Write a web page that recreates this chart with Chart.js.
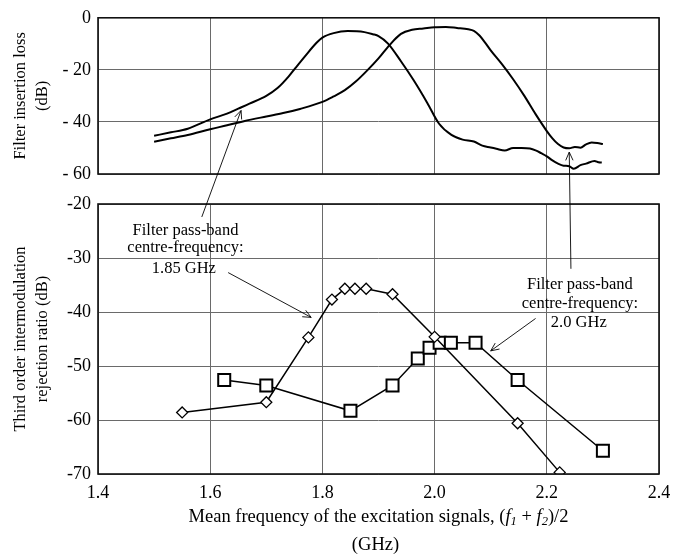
<!DOCTYPE html>
<html><head><meta charset="utf-8">
<script src="https://cdn.jsdelivr.net/npm/chart.js@4"></script>
<style>
html,body{margin:0;padding:0;background:#fff;}
#wrap{position:relative;width:682px;height:559px;background:#fff;}
canvas{position:absolute;left:0;top:0;}
</style></head><body>
<div id="wrap"><canvas id="cTop" width="682" height="559"></canvas><canvas id="cBot" width="682" height="559"></canvas></div>
<script>
// ---- data ----
const xTicks = [1.4, 1.6, 1.8, 2.0, 2.2, 2.4];
const topYTicks = [0, -20, -40, -60];
const bottomYTicks = [-20, -30, -40, -50, -60, -70];

// Filter insertion loss, 1.85 GHz filter
const lossFreqA = [1.50,1.53,1.56,1.60,1.63,1.65,1.67,1.70,1.72,1.74,1.75,1.77,1.79,1.80,1.82,1.845,1.875,1.89,1.90,1.917,1.94,1.963,1.987,2.008,2.03,2.05,2.07,2.085,2.10,2.11,2.125,2.14,2.155,2.17,2.18,2.19,2.20,2.21,2.22,2.23,2.24,2.248,2.26,2.27,2.285,2.292,2.298];
const lossA     = [-45.3,-44.0,-42.6,-39.0,-36.8,-34.9,-33.0,-30.0,-27.0,-22.5,-19.8,-14.5,-9.5,-7.6,-5.9,-5.1,-5.5,-6.3,-7.0,-9.9,-16.7,-24.1,-32.7,-40.7,-45.0,-46.8,-47.5,-49.1,-49.8,-50.3,-51.0,-50.0,-50.0,-50.2,-50.9,-52.0,-53.2,-54.8,-56.0,-56.8,-57.0,-58.0,-56.6,-56.0,-55.0,-55.5,-55.6];
// Filter insertion loss, 2.0 GHz filter
const lossFreqB = [1.50,1.53,1.56,1.60,1.63,1.66,1.70,1.73,1.76,1.80,1.82,1.84,1.86,1.88,1.90,1.92,1.94,1.96,1.98,2.00,2.02,2.04,2.06,2.07,2.08,2.09,2.10,2.12,2.14,2.16,2.18,2.20,2.21,2.22,2.23,2.24,2.25,2.26,2.27,2.28,2.29,2.30];
const lossB     = [-47.6,-46.3,-45.0,-42.8,-41.3,-39.7,-37.9,-36.6,-35.0,-32.3,-30.2,-27.8,-24.4,-20.2,-15.6,-10.4,-6.2,-4.6,-4.1,-3.6,-3.5,-3.9,-4.4,-5.0,-6.8,-9.5,-12.5,-17.8,-23.6,-30.0,-37.0,-43.5,-46.3,-48.5,-49.8,-50.1,-49.6,-49.9,-48.6,-47.9,-48.1,-48.5];

// Third order IM rejection ratio
const imFreq185 = [1.55, 1.70, 1.775, 1.817, 1.84, 1.858, 1.878, 1.925, 2.0, 2.148, 2.223];
const im185     = [-58.6, -56.7, -44.7, -37.7, -35.7, -35.7, -35.7, -36.7, -44.6, -60.6, -69.7];
const imFreq200 = [1.625, 1.70, 1.85, 1.925, 1.97, 1.991, 2.009, 2.029, 2.073, 2.148, 2.30];
const im200     = [-52.6, -53.6, -58.3, -53.6, -48.6, -46.6, -45.7, -45.7, -45.7, -52.6, -65.7];

// ---- helpers ----
const SERIF = '"Liberation Serif", "Times New Roman", serif';
const toXY = (xs, ys) => xs.map((x, i) => ({x, y: ys[i]}));

function arrowHead(ctx, x1, y1, x2, y2, len) {
  const a = Math.atan2(y2 - y1, x2 - x1);
  const s = 0.42;
  ctx.beginPath();
  ctx.moveTo(x2 - len * Math.cos(a - s), y2 - len * Math.sin(a - s));
  ctx.lineTo(x2, y2);
  ctx.lineTo(x2 - len * Math.cos(a + s), y2 - len * Math.sin(a + s));
  ctx.stroke();
}
function arrow(ctx, x1, y1, x2, y2) {
  ctx.beginPath(); ctx.moveTo(x1, y1); ctx.lineTo(x2, y2); ctx.stroke();
  arrowHead(ctx, x1, y1, x2, y2, 9);
}

const framePlugin = {
  id: 'frame',
  afterDatasetsDraw(chart) {
    const {ctx, chartArea: a} = chart;
    ctx.save();
    ctx.strokeStyle = '#111'; ctx.lineWidth = 1.6;
    ctx.strokeRect(a.left, a.top, a.right - a.left, a.bottom - a.top);
    ctx.restore();
  }
};

let topChart;

const annotPlugin = {
  id: 'annot',
  afterDraw(chart) {
    const {ctx, chartArea: a} = chart;
    const xs = chart.scales.x, ys = chart.scales.y;
    const tx = topChart.scales.x, ty = topChart.scales.y;
    ctx.save();
    ctx.strokeStyle = '#000'; ctx.fillStyle = '#000'; ctx.lineWidth = 0.9;
    // text blocks
    ctx.font = '16.5px ' + SERIF;
    ctx.textAlign = 'center'; ctx.textBaseline = 'middle';
    const t1 = [['Filter pass-band', 1.556, -25.0], ['centre-frequency:', 1.556, -28.1], ['1.85 GHz', 1.553, -32.0]];
    const t2 = [['Filter pass-band', 2.259, -34.9], ['centre-frequency:', 2.259, -38.5], ['2.0 GHz', 2.257, -41.9]];
    [...t1, ...t2].forEach(([s, x, y]) => ctx.fillText(s, xs.getPixelForValue(x), ys.getPixelForValue(y)));
    // arrows in lower panel
    arrow(ctx, xs.getPixelForValue(1.632), ys.getPixelForValue(-32.7), xs.getPixelForValue(1.780), ys.getPixelForValue(-41.0));
    arrow(ctx, xs.getPixelForValue(2.180), ys.getPixelForValue(-41.2), xs.getPixelForValue(2.100), ys.getPixelForValue(-47.2));
    // leader lines up into the top panel
    arrow(ctx, xs.getPixelForValue(1.585), ys.getPixelForValue(-22.4), tx.getPixelForValue(1.655), ty.getPixelForValue(-35.6));
    arrow(ctx, xs.getPixelForValue(2.243), ys.getPixelForValue(-32.0), tx.getPixelForValue(2.240), ty.getPixelForValue(-51.6));
    // x axis title with italic/subscript parts
    const base = '18.5px ' + SERIF, ital = 'italic 18.5px ' + SERIF, sub = 'italic 12.5px ' + SERIF;
    const parts = [[base, 'Mean frequency of the excitation signals, (', 0], [ital, 'f', 0], [sub, '1', 5], [base, ' + ', 0], [ital, 'f', 0], [sub, '2', 5], [base, ')/2', 0]];
    let total = 0;
    parts.forEach(p => { ctx.font = p[0]; p.push(ctx.measureText(p[1]).width); total += p[3]; });
    let x = (a.left + a.right) / 2 - total / 2;
    const ty0 = 517;
    ctx.textAlign = 'left';
    parts.forEach(p => { ctx.font = p[0]; ctx.fillText(p[1], x, ty0 + p[2]); x += p[3]; });
    ctx.font = base; ctx.textAlign = 'center';
    ctx.fillText('(GHz)', (a.left + a.right) / 2 - 3, 545);
    ctx.restore();
  }
};

const gridColor = '#6a6a6a';

topChart = new Chart(document.getElementById('cTop'), {
  type: 'line',
  data: {
    datasets: [
      {data: toXY(lossFreqA, lossA), borderColor: '#000', borderWidth: 2, pointRadius: 0, cubicInterpolationMode: 'monotone', fill: false},
      {data: toXY(lossFreqB, lossB), borderColor: '#000', borderWidth: 2, pointRadius: 0, cubicInterpolationMode: 'monotone', fill: false}
    ]
  },
  options: {
    responsive: false, devicePixelRatio: 1, animation: false,
    layout: {padding: {left: 0, top: 11, right: 23, bottom: 385}},
    plugins: {legend: {display: false}, tooltip: {enabled: false}},
    scales: {
      x: {type: 'linear', min: 1.4, max: 2.4,
          afterBuildTicks: s => { s.ticks = xTicks.map(v => ({value: v})); },
          ticks: {display: false}, grid: {color: gridColor, lineWidth: 1, drawTicks: false}, border: {display: false},
          afterFit: s => { s.height = 0; }},
      y: {type: 'linear', min: -60, max: 0,
          afterBuildTicks: s => { s.ticks = topYTicks.map(v => ({value: v})); },
          ticks: {color: '#000', padding: 7, font: {family: SERIF, size: 18},
                  callback: v => v === 0 ? '0' : '- ' + Math.abs(v)},
          grid: {color: gridColor, lineWidth: 1, drawTicks: false}, border: {display: false},
          title: {display: true, text: ['Filter insertion loss', '(dB)'], color: '#000',
                  font: {family: SERIF, size: 16.5, lineHeight: 1.3}, padding: {top: 10, bottom: 0}},
          afterFit: s => { s.width = 98; }}
    }
  },
  plugins: [framePlugin]
});

new Chart(document.getElementById('cBot'), {
  type: 'line',
  data: {
    datasets: [
      {data: toXY(imFreq185, im185), borderColor: '#000', borderWidth: 1.5, pointStyle: 'rectRot', pointRadius: 5.5,
       pointBorderWidth: 1.3, pointBackgroundColor: '#fff', pointBorderColor: '#000', tension: 0, fill: false},
      {data: toXY(imFreq200, im200), borderColor: '#000', borderWidth: 1.5, pointStyle: 'rect', pointRadius: 8.5,
       pointBorderWidth: 2, pointBackgroundColor: '#fff', pointBorderColor: '#000', tension: 0, fill: false}
    ]
  },
  options: {
    responsive: false, devicePixelRatio: 1, animation: false,
    layout: {padding: {left: 0, top: 204, right: 23, bottom: 0}},
    plugins: {legend: {display: false}, tooltip: {enabled: false}},
    scales: {
      x: {type: 'linear', min: 1.4, max: 2.4,
          afterBuildTicks: s => { s.ticks = xTicks.map(v => ({value: v})); },
          ticks: {color: '#000', padding: 8, font: {family: SERIF, size: 18}, callback: v => v.toFixed(1)},
          grid: {color: gridColor, lineWidth: 1, drawTicks: false}, border: {display: false},
          afterFit: s => { s.height = 85; }},
      y: {type: 'linear', min: -70, max: -20,
          afterBuildTicks: s => { s.ticks = bottomYTicks.map(v => ({value: v})); },
          ticks: {color: '#000', padding: 7, font: {family: SERIF, size: 18}, callback: v => String(v)},
          grid: {color: gridColor, lineWidth: 1, drawTicks: false}, border: {display: false},
          title: {display: true, text: ['Third order intermodulation', 'rejection ratio (dB)'], color: '#000',
                  font: {family: SERIF, size: 16.5, lineHeight: 1.3}, padding: {top: 10, bottom: 0}},
          afterFit: s => { s.width = 98; }}
    }
  },
  plugins: [framePlugin, annotPlugin]
});
</script>
</body></html>
